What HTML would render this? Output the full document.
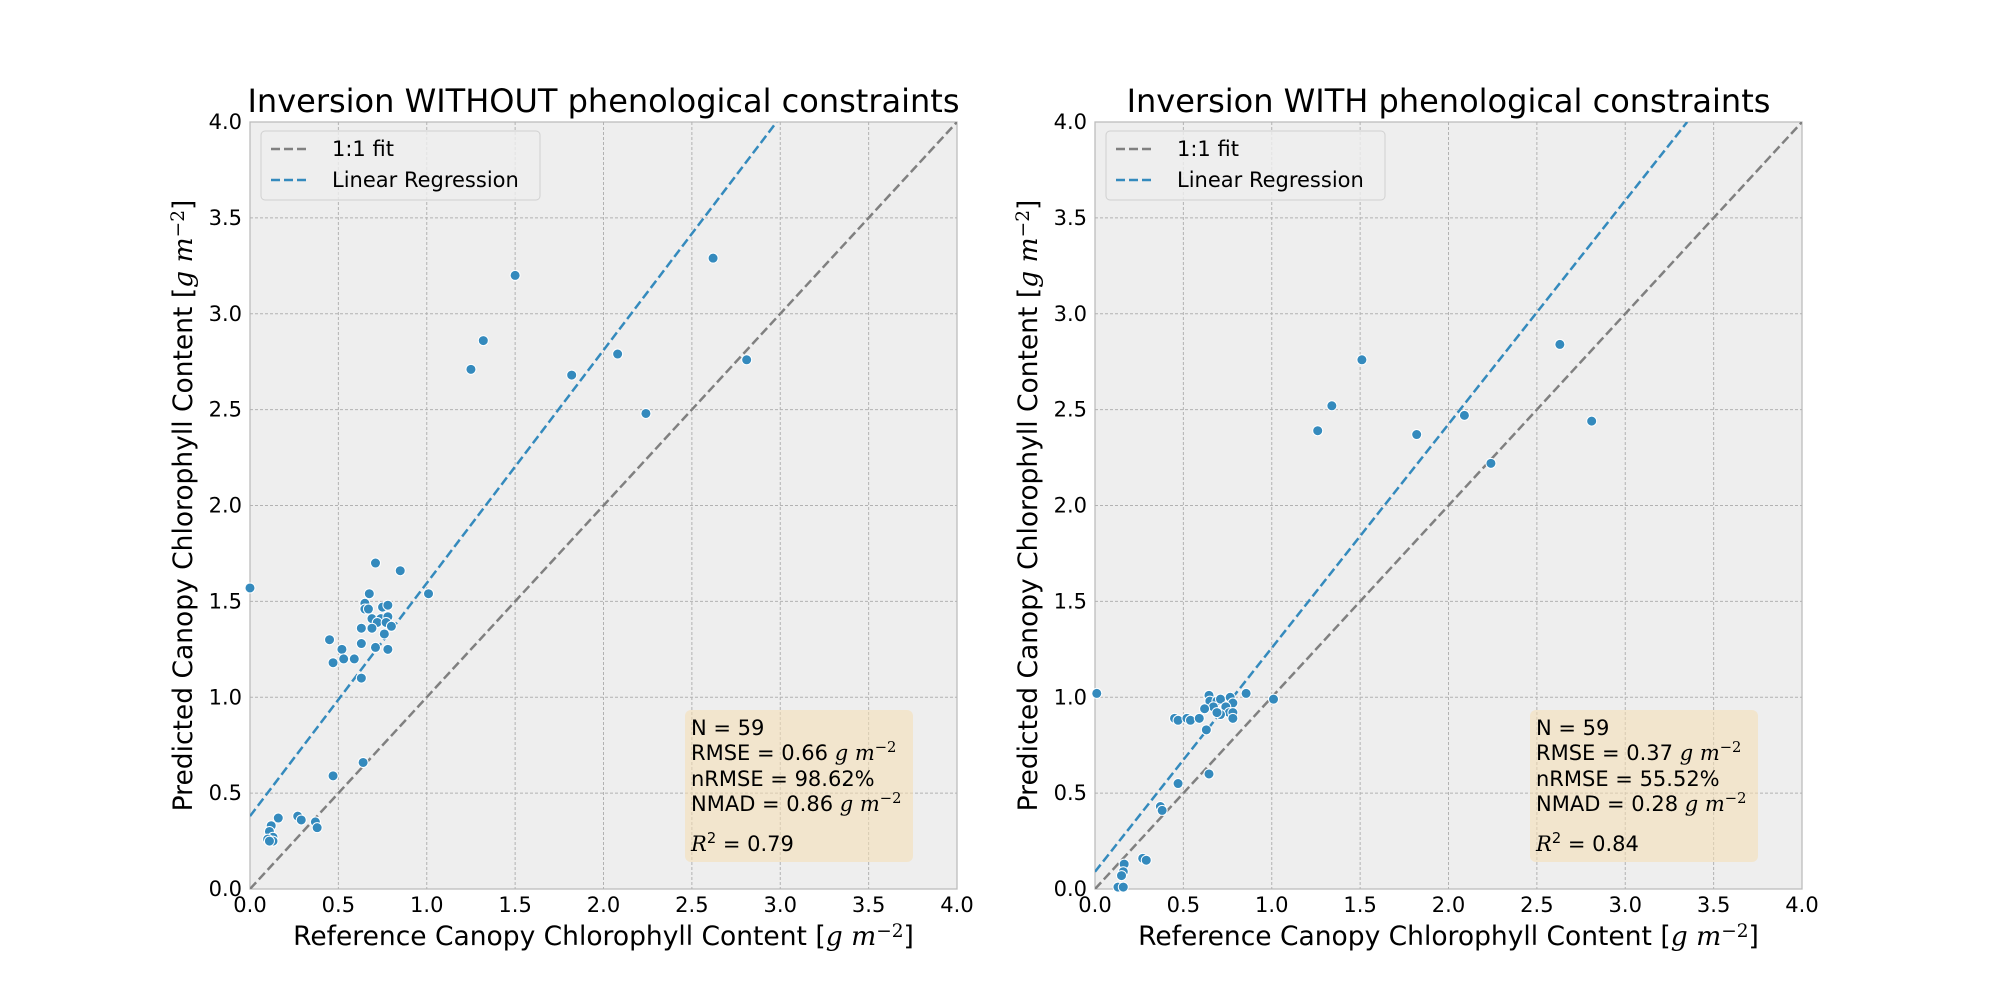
<!DOCTYPE html>
<html><head><meta charset="utf-8"><style>
body{margin:0;background:#fff}
svg{display:block;font-family:"DejaVu Sans","Liberation Sans",sans-serif}
</style></head><body>
<svg id="fig" width="2000" height="1000" viewBox="0 0 2000 1000"></svg>
<script>
const ticks=[0,0.5,1,1.5,2,2.5,3,3.5,4];
const tickLabels=["0.0","0.5","1.0","1.5","2.0","2.5","3.0","3.5","4.0"];
const leftX=[2.62,1.5,1.32,1.25,1.82,2.08,2.24,2.81,0.0,0.71,0.85,1.01,0.675,0.65,0.65,0.67,0.75,0.78,0.69,0.74,0.78,0.72,0.77,0.80,0.63,0.69,0.76,0.45,0.63,0.71,0.78,0.52,0.47,0.53,0.59,0.63,0.64,0.47,0.16,0.27,0.29,0.37,0.38,0.12,0.11,0.13,0.10,0.13,0.11];
const leftY=[3.29,3.20,2.86,2.71,2.68,2.79,2.48,2.76,1.57,1.70,1.66,1.54,1.54,1.49,1.46,1.46,1.47,1.48,1.41,1.41,1.42,1.39,1.39,1.37,1.36,1.36,1.33,1.30,1.28,1.26,1.25,1.25,1.18,1.20,1.20,1.10,0.66,0.59,0.37,0.38,0.36,0.35,0.32,0.33,0.30,0.27,0.26,0.25,0.25];
const rightX=[2.63,1.51,1.34,1.26,1.82,2.09,2.24,2.81,0.01,1.01,0.855,0.645,0.65,0.69,0.71,0.765,0.78,0.67,0.62,0.74,0.76,0.78,0.71,0.69,0.78,0.45,0.47,0.52,0.54,0.59,0.63,0.645,0.47,0.37,0.38,0.27,0.29,0.165,0.16,0.15,0.13,0.16];
const rightY=[2.84,2.76,2.52,2.39,2.37,2.47,2.22,2.44,1.02,0.99,1.02,1.01,0.98,0.98,0.99,1.0,0.97,0.95,0.94,0.95,0.92,0.92,0.91,0.92,0.89,0.89,0.88,0.89,0.88,0.89,0.83,0.60,0.55,0.43,0.41,0.16,0.15,0.13,0.09,0.07,0.01,0.01];
const leftReg=[1.215,0.38];
const rightReg=[1.167,0.09];
const leftStats=["N = 59","RMSE = 0.66 ","nRMSE = 98.62%","NMAD = 0.86 ","= 0.79"];
const rightStats=["N = 59","RMSE = 0.37 ","nRMSE = 55.52%","NMAD = 0.28 ","= 0.84"];

const NS="http://www.w3.org/2000/svg";
const svg=document.getElementById('fig');
function el(tag,attrs,parent){const e=document.createElementNS(NS,tag);for(const k in attrs)e.setAttribute(k,attrs[k]);(parent||svg).appendChild(e);return e;}
function unitSpans(t){
  const a=el('tspan',{'font-family':'"DejaVu Serif","Liberation Serif",serif','font-style':'italic'},t);a.textContent='g m';
  const b=el('tspan',{'font-family':'"DejaVu Serif","Liberation Serif",serif','font-size':'0.7em','dy':'-8'},t);b.textContent='−2';
}
function panel(x0,px,name,title,xs,ys,reg,stats){
  const T=122,B=889,W=707;
  const sx=v=>x0+v/4*W, sy=v=>B-v/4*(B-T);
  const g=el('g',{});
  
  
  const bg=el('rect',{x:x0,y:T,width:W,height:B-T,fill:'#eeeeee',stroke:'#bcbcbc','stroke-width':1.3},g);
  
  ticks.forEach((t,i)=>{
    if(i>0&&i<ticks.length-1){
      el('line',{x1:sx(t),x2:sx(t),y1:T,y2:B,stroke:'#b2b2b2','stroke-width':1,'stroke-dasharray':'3,2'},g);
      el('line',{x1:x0,x2:x0+W,y1:sy(t),y2:sy(t),stroke:'#b2b2b2','stroke-width':1,'stroke-dasharray':'3,2'},g);
    }
    const xt=el('text',{x:sx(t),y:912,'font-size':21,'text-anchor':'middle'},g);xt.textContent=tickLabels[i];
    
    const yt=el('text',{x:x0-8,y:sy(t)+7,'font-size':21,'text-anchor':'end'},g);yt.textContent=tickLabels[i];
    
  });
  const clip=el('clipPath',{id:'c'+name},g);el('rect',{x:x0,y:T,width:W,height:B-T},clip);
  const lg=el('g',{'clip-path':'url(#c'+name+')'},g);
  const one=el('line',{x1:sx(0),y1:sy(0),x2:sx(4),y2:sy(4),stroke:'#808080','stroke-width':2.5,'stroke-dasharray':'9,4'},lg);
  
  const xe=(4-reg[1])/reg[0];
  const rl=el('line',{x1:sx(0),y1:sy(reg[1]),x2:sx(xe),y2:sy(4),stroke:'#348ABD','stroke-width':2.5,'stroke-dasharray':'9,4'},lg);
  
  xs.forEach((v,i)=>{
    const c=el('circle',{cx:sx(v),cy:sy(ys[i]),r:5,fill:'#348ABD',stroke:'#fff','stroke-width':1},g);
    
  });
  const lgd=el('g',{},g);
  el('rect',{x:x0+11,y:T+9,width:279,height:69,rx:4,fill:'#eeeeee','fill-opacity':0.8,stroke:'#d0d0d0'},lgd);
  el('line',{x1:x0+21,x2:x0+59,y1:T+27,y2:T+27,stroke:'#808080','stroke-width':2.5,'stroke-dasharray':'9,4'},lgd);
  const l1=el('text',{x:x0+82,y:T+34,'font-size':21},lgd);l1.textContent='1:1 fit';
  el('line',{x1:x0+21,x2:x0+59,y1:T+58,y2:T+58,stroke:'#348ABD','stroke-width':2.5,'stroke-dasharray':'9,4'},lgd);
  const l2=el('text',{x:x0+82,y:T+65,'font-size':21},lgd);l2.textContent='Linear Regression';
  const sb=el('g',{},g);
  el('rect',{x:x0+435,y:710,width:228,height:152,rx:6,fill:'#f5deb3','fill-opacity':0.55},sb);
  const ly=[735,760,786,811,851];
  stats.forEach((s,i)=>{
    const t=el('text',{x:x0+441,y:ly[i],'font-size':21},sb);
    if(i===4){const r=el('tspan',{'font-family':'"DejaVu Serif","Liberation Serif",serif','font-style':'italic'},t);r.textContent='R';
      const s2=el('tspan',{'font-size':'0.7em',dy:-8},t);s2.textContent='2';
      const rest=el('tspan',{dy:8},t);rest.textContent=' '+s;}
    else{const a=el('tspan',{},t);a.textContent=s;if(i===1||i===3)unitSpans(t);}
  });
  const tt=el('text',{x:x0+W/2,y:112,'font-size':32,'text-anchor':'middle'},g);tt.textContent=title;
  
  const xl=el('text',{x:x0+W/2,y:945,'font-size':26.5,'text-anchor':'middle'},g);
  
  const xa=el('tspan',{},xl);xa.textContent='Reference Canopy Chlorophyll Content [';unitSpans(xl);const xb=el('tspan',{dy:8},xl);xb.textContent=']';
  const yl=el('text',{x:0,y:0,'font-size':26.5,'text-anchor':'middle',transform:`translate(${x0-58},${(T+B)/2}) rotate(-90)`},g);
  
  const ya=el('tspan',{},yl);ya.textContent='Predicted Canopy Chlorophyll Content [';unitSpans(yl);const yb=el('tspan',{dy:8},yl);yb.textContent=']';
}
panel(250,0,'left-panel','Inversion WITHOUT phenological constraints',leftX,leftY,leftReg,leftStats);
panel(1095,0,'right-panel','Inversion WITH phenological constraints',rightX,rightY,rightReg,rightStats);
</script>
</body></html>
